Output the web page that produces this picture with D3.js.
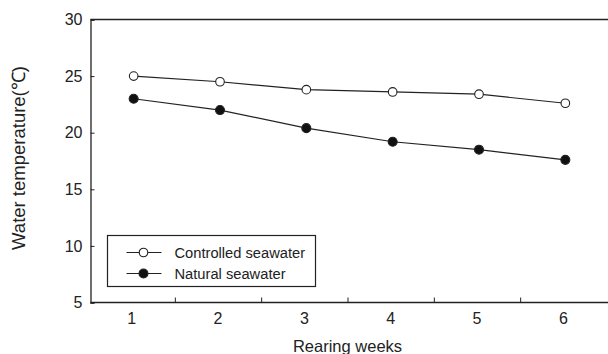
<!DOCTYPE html>
<html>
<head>
<meta charset="utf-8">
<script src="https://cdn.jsdelivr.net/npm/d3@7"></script>
<style>
    body { margin: 0; background: #fff; }
    svg { display: block; font-family: "Liberation Sans", Arial, sans-serif; }
</style>
</head>
<body>
<div id="chart"></div>
<script>
// data
const weeks = [1, 2, 3, 4, 5, 6];
const controlled = [25.0, 24.5, 23.8, 23.6, 23.4, 22.6];
const natural = [23.0, 22.0, 20.4, 19.2, 18.5, 17.6];
const yTicks = [5, 10, 15, 20, 25, 30];
const seriesNames = ["Controlled seawater", "Natural seawater"];

const width = 608, height = 354;
const ink = "#222";

const svg = d3.select("#chart")
    .append("svg")
    .attr("width", width)
    .attr("height", height);

const x = d3.scaleLinear()
    .domain([0.5, 6.5])
    .range([90.5, 608.5]);

const y = d3.scaleLinear()
    .domain([5, 30])
    .range([302.5, 19.5]);

// x axis: labels under points, ticks at the boundaries between weeks
const xAxis = svg.append("g")
    .attr("transform", `translate(0,${y(5)})`);

xAxis.append("line")
    .attr("x1", x(0.5)).attr("x2", width)
    .attr("stroke", ink).attr("stroke-width", 1.3);

xAxis.selectAll(".xtick")
    .data(weeks.slice(0, -1))
    .enter()
    .append("line")
    .attr("x1", d => x(d + 0.5) - 1.5)
    .attr("x2", d => x(d + 0.5) - 1.5)
    .attr("y1", 0)
    .attr("y2", -5)
    .attr("stroke", ink);

xAxis.selectAll(".xlabel")
    .data(weeks)
    .enter()
    .append("text")
    .attr("x", d => x(d) - 2)
    .attr("y", 21)
    .attr("text-anchor", "middle")
    .attr("font-size", 16)
    .attr("fill", ink)
    .text(d => d);

// top border
svg.append("line")
    .attr("x1", x(0.5)).attr("x2", width)
    .attr("y1", y(30)).attr("y2", y(30))
    .attr("stroke", ink).attr("stroke-width", 1.3);

// y axis
svg.append("g")
    .attr("transform", `translate(${x(0.5)},0)`)
    .call(d3.axisLeft(y).tickValues(yTicks).tickSize(-4).tickPadding(8))
    .call(g => g.select(".domain").attr("stroke", ink).attr("stroke-width", 1.3))
    .call(g => g.selectAll(".tick line").attr("stroke", ink))
    .call(g => g.selectAll(".tick text")
        .attr("font-size", 16)
        .attr("fill", ink)
        .attr("font-family", "Liberation Sans, Arial, sans-serif"));

// lines and markers
const line = d3.line()
    .x((d, i) => x(weeks[i]))
    .y(d => y(d));

[controlled, natural].forEach(function(values, k) {
    svg.append("path")
        .datum(values)
        .attr("d", line)
        .attr("fill", "none")
        .attr("stroke", ink)
        .attr("stroke-width", 1.2);

    svg.selectAll(".pt" + k)
        .data(values)
        .enter()
        .append("circle")
        .attr("cx", (d, i) => x(weeks[i]))
        .attr("cy", d => y(d))
        .attr("r", k === 0 ? 4.3 : 4.5)
        .attr("fill", k === 0 ? "#fff" : "#111")
        .attr("stroke", ink)
        .attr("stroke-width", 1.1);
});

// legend
const legend = svg.append("g")
    .attr("transform", "translate(107.5,235.5)");

legend.append("rect")
    .attr("width", 208)
    .attr("height", 51)
    .attr("fill", "#fff")
    .attr("stroke", ink)
    .attr("stroke-width", 1.2);

seriesNames.forEach(function(name, k) {
    const row = legend.append("g")
        .attr("transform", `translate(0,${17 + k * 21})`);
    row.append("line")
        .attr("x1", 19).attr("x2", 54)
        .attr("stroke", ink).attr("stroke-width", 1.2);
    row.append("circle")
        .attr("cx", 36)
        .attr("r", k === 0 ? 4.3 : 4.5)
        .attr("fill", k === 0 ? "#fff" : "#111")
        .attr("stroke", ink)
        .attr("stroke-width", 1.1);
    row.append("text")
        .attr("x", 67)
        .attr("y", 0)
        .attr("dy", "0.35em")
        .attr("font-size", 14.7)
        .attr("fill", ink)
        .text(name);
});

// axis titles
svg.append("text")
    .attr("x", x(3.5) - 2)
    .attr("y", 352)
    .attr("text-anchor", "middle")
    .attr("font-size", 16.5)
    .attr("fill", ink)
    .text("Rearing weeks");

svg.append("text")
    .attr("transform", "translate(25,158) rotate(-90)")
    .attr("text-anchor", "middle")
    .attr("font-size", 18.5)
    .attr("fill", ink)
    .text("Water temperature(℃)");
</script>
</body>
</html>
